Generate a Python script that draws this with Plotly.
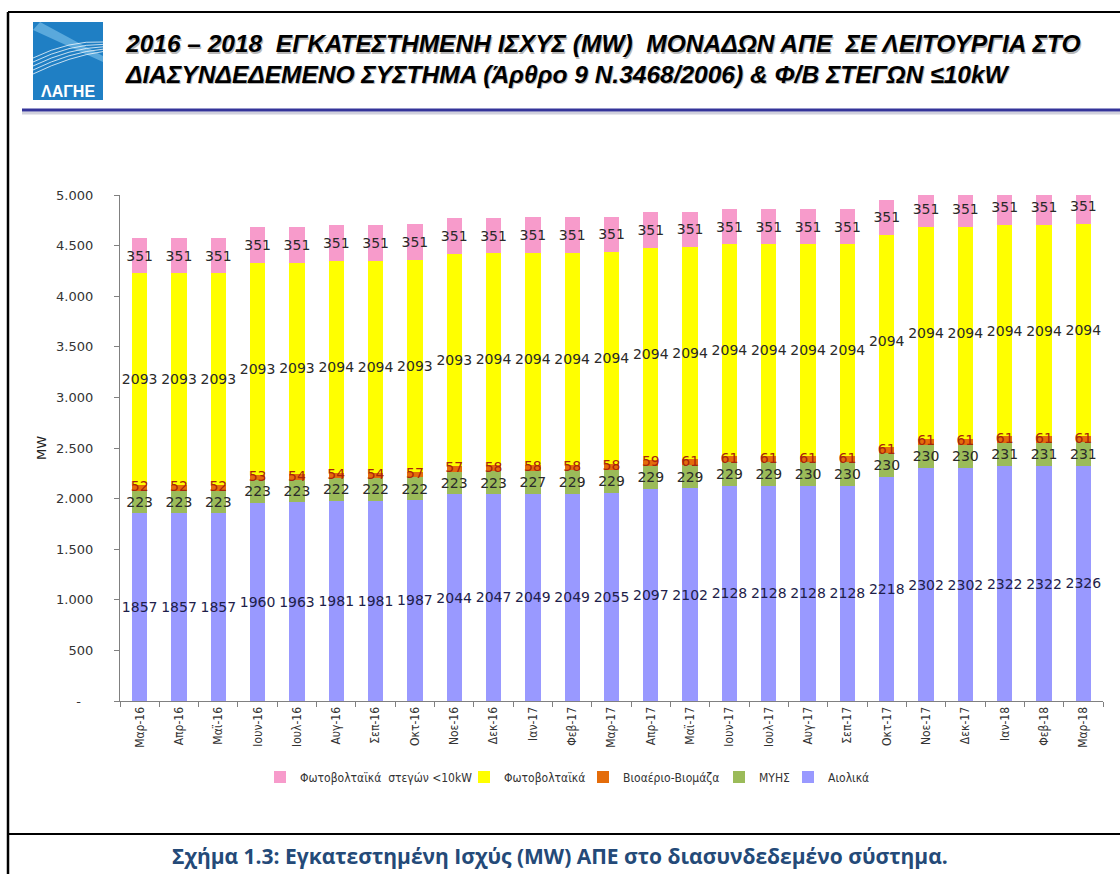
import plotly.graph_objects as go

months = ["Μαρ-16","Απρ-16","Μαϊ-16","Ιουν-16","Ιουλ-16","Αυγ-16","Σεπ-16","Οκτ-16","Νοε-16","Δεκ-16",
          "Ιαν-17","Φεβ-17","Μαρ-17","Απρ-17","Μαϊ-17","Ιουν-17","Ιουλ-17","Αυγ-17","Σεπ-17","Οκτ-17",
          "Νοε-17","Δεκ-17","Ιαν-18","Φεβ-18","Μαρ-18"]
aiolika = [1857,1857,1857,1960,1963,1981,1981,1987,2044,2047,2049,2049,2055,2097,2102,2128,2128,2128,2128,2218,2302,2302,2322,2322,2326]
myhs = [223,223,223,223,223,222,222,222,223,223,227,229,229,229,229,229,229,230,230,230,230,230,231,231,231]
bio = [52,52,52,53,54,54,54,57,57,58,58,58,58,59,61,61,61,61,61,61,61,61,61,61,61]
pv = [2093,2093,2093,2093,2093,2094,2094,2093,2093,2094,2094,2094,2094,2094,2094,2094,2094,2094,2094,2094,2094,2094,2094,2094,2094]
pv_roof = [351]*25

y_tickvals = [0,500,1000,1500,2000,2500,3000,3500,4000,4500,5000]
y_ticktext = ["-\u00a0\u00a0\u00a0","500","1.000","1.500","2.000","2.500","3.000","3.500","4.000","4.500","5.000"]

series = [
    ("Αιολικά", aiolika, "#9999FF", "#1e1e4a"),
    ("ΜΥΗΣ", myhs, "#9BBB59", "#2a2a2a"),
    ("Βιοαέριο-Βιομάζα", bio, "#E46C0A", "#a8240c"),
    ("Φωτοβολταϊκά", pv, "#FFFF00", "#2a2a2a"),
    ("Φωτοβολταϊκά\u00a0\u00a0στεγών <10kW", pv_roof, "#F79BCB", "#2a2a2a"),
]

W, H = 1120, 874
pl, pr, pt, pb = 120, 17, 195, 173
pw, ph = W - pl - pr, H - pt - pb
def px(x): return (x - pl) / pw
def py(y): return (H - pb - y) / ph

# legend box left edges (px), in the order of `series`
legend_left = [788, 719, 583, 464, 260]
legend_names = ["legend5", "legend4", "legend3", "legend2", "legend"]

fig = go.Figure()
for (name, vals, col, tcol), lg in zip(series, legend_names):
    is_bio = name.startswith("Βιο")
    fig.add_trace(go.Bar(
        x=months, y=vals, name=name, marker=dict(color=col, line=dict(width=0)),
        text=None if is_bio else [str(v) for v in vals],
        textposition="inside", insidetextanchor="middle",
        textangle=0, constraintext="none",
        textfont=dict(family="DejaVu Sans", size=14, color=tcol),
        cliponaxis=True, legend=lg,
    ))

# biomass labels drawn on top of all bars (centre of the biomass segment)
bio_mid = [a + m + b / 2 for a, m, b in zip(aiolika, myhs, bio)]
fig.add_trace(go.Scatter(x=months, y=bio_mid, mode="text", text=[str(v) for v in bio],
                         textposition="middle center", showlegend=False, hoverinfo="skip",
                         textfont=dict(family="DejaVu Sans", size=14, color="#a8240c")))

legend_common = dict(orientation="h", yanchor="middle", xanchor="left", y=py(777),
                     font=dict(family="DejaVu Sans Condensed, DejaVu Sans", size=12, color="#333"),
                     itemwidth=30, bgcolor="rgba(0,0,0,0)", borderwidth=0)
layout_legends = {}
for lg, lx in zip(legend_names, legend_left):
    layout_legends[lg] = dict(legend_common, x=px(lx))

fig.update_layout(
    barmode="stack", bargap=0.61,
    width=W, height=H,
    paper_bgcolor="white", plot_bgcolor="white",
    margin=dict(l=pl, r=pr, t=pt, b=pb, autoexpand=False),
    uniformtext=dict(minsize=14, mode="show"),
    showlegend=True,
    font=dict(family="DejaVu Sans", color="#222"),
    **layout_legends,
)

fig.update_yaxes(range=[0,5000], tickvals=y_tickvals, ticktext=y_ticktext,
                 showline=True, linecolor="#808080", linewidth=1.3, ticks="outside", ticklen=5, tickcolor="#808080",
                 showgrid=False, zeroline=False, ticklabelstandoff=18,
                 tickfont=dict(family="DejaVu Sans", size=13, color="#333"),
                 title=dict(text="MW", font=dict(family="DejaVu Sans", size=13, color="#222"), standoff=6))
fig.update_xaxes(range=[-0.5, len(months) - 0.5], autorange=False,
                 showline=True, linecolor="#808080", linewidth=1.3, ticks="outside", ticklen=5, tickcolor="#808080",
                 tickson="boundaries", tickangle=-90, showgrid=False,
                 tickfont=dict(family="DejaVu Sans Condensed, DejaVu Sans", size=12, color="#333"))

# frame
fig.add_shape(type="line", xref="paper", yref="paper", x0=px(8), x1=px(1125), y0=py(12), y1=py(12), line=dict(color="black", width=2))
fig.add_shape(type="line", xref="paper", yref="paper", x0=px(8), x1=px(8), y0=py(12), y1=py(880), line=dict(color="black", width=2.5))
fig.add_shape(type="line", xref="paper", yref="paper", x0=px(8), x1=px(1125), y0=py(834), y1=py(834), line=dict(color="black", width=2))
# blue rule under title with shadow
fig.add_shape(type="line", xref="paper", yref="paper", x0=px(22), x1=px(1125), y0=py(113), y1=py(113), line=dict(color="#d0d0dc", width=3))
fig.add_shape(type="line", xref="paper", yref="paper", x0=px(22), x1=px(1125), y0=py(110), y1=py(110), line=dict(color="#34349a", width=3))
# logo
fig.add_shape(type="rect", xref="paper", yref="paper", x0=px(33), x1=px(103), y0=py(22), y1=py(100), line=dict(width=0), fillcolor="#1f7fc4")
fig.add_shape(type="path", xref="paper", yref="paper",
              path=f"M {px(33)},{py(30)} L {px(103)},{py(62)} L {px(103)},{py(56)} L {px(40)},{py(22)} Z",
              fillcolor="#5aa9dc", line=dict(width=0))
for dy in [0, 4, 8, 12, 16]:
    fig.add_shape(type="path", xref="paper", yref="paper",
                  path=f"M {px(33)},{py(58+dy)} Q {px(70)},{py(40+dy)} {px(103)},{py(42+dy*0.6)}",
                  line=dict(color="rgba(255,255,255,0.75)", width=1))
fig.add_annotation(xref="paper", yref="paper", x=px(68), y=py(91), text="<b>ΛΑΓΗΕ</b>", showarrow=False,
                   font=dict(family="Liberation Sans", size=16, color="white"), xanchor="center", yanchor="middle")

# title with soft shadow
t1 = "2016 – 2018\u00a0\u00a0ΕΓΚΑΤΕΣΤΗΜΕΝΗ ΙΣΧΥΣ (MW)\u00a0\u00a0ΜΟΝΑΔΩΝ ΑΠΕ\u00a0\u00a0ΣΕ ΛΕΙΤΟΥΡΓΙΑ ΣΤΟ"
t2 = "ΔΙΑΣΥΝΔΕΔΕΜΕΝΟ ΣΥΣΤΗΜΑ (Άρθρο 9 Ν.3468/2006) & Φ/Β ΣΤΕΓΩΝ ≤10kW"
for (tx, ty) in [(t1, 44), (t2, 74)]:
    fig.add_annotation(xref="paper", yref="paper", x=px(124.2), y=py(ty+1.2), text=f"<b><i>{tx}</i></b>", showarrow=False,
                       font=dict(family="Liberation Sans", size=24.5, color="#b8b8b8"), xanchor="left", yanchor="middle")
    fig.add_annotation(xref="paper", yref="paper", x=px(123), y=py(ty), text=f"<b><i>{tx}</i></b>", showarrow=False,
                       font=dict(family="Liberation Sans", size=24.5, color="black"), xanchor="left", yanchor="middle")

# caption
fig.add_annotation(xref="paper", yref="paper", x=px(560), y=py(856),
                   text="<b>Σχήμα 1.3: Εγκατεστημένη Ισχύς (MW) ΑΠΕ στο διασυνδεδεμένο σύστημα.</b>",
                   showarrow=False, font=dict(family="Open Sans", size=21, color="#244a78"),
                   xanchor="center", yanchor="middle")

fig.write_html("out.html", config={"displayModeBar": False},
               post_script="document.body.style.margin='0';document.body.style.overflow='hidden';")
